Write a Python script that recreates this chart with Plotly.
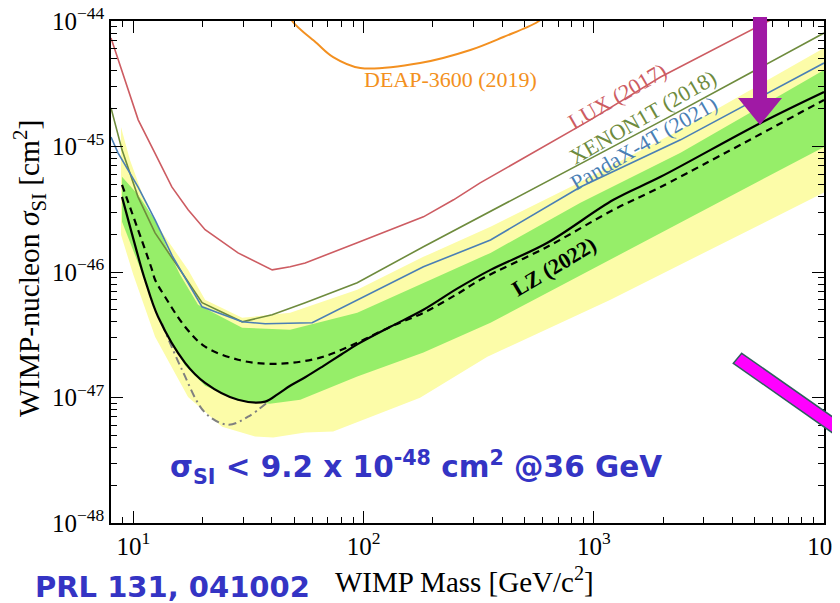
import math
import plotly.graph_objects as go

# ---------------- data (WIMP mass in GeV/c^2, cross section in cm^2) ----------------
lux_m = [8.0, 10.5, 12.4, 14.7, 17.3, 20.5, 28.5, 40.1, 48.0, 55.8, 93.9, 182, 246, 321, 967, 1950, 5870, 10000]
lux_s = [7.33e-45, 1.63e-45, 8.9e-46, 4.76e-46, 3.13e-46, 2.17e-46, 1.42e-46, 1.04e-46, 1.10e-46, 1.18e-46,
         1.71e-46, 2.75e-46, 3.76e-46, 5.13e-46, 1.63e-45, 3.58e-45, 1.02e-44, 1.74e-44]

xenon_m = [8.0, 8.93, 10.48, 12.43, 16.28, 19.89, 29.7, 40.1, 55.8, 93.9, 182, 321, 2009, 10000]
xenon_s = [2.03e-45, 9.4e-46, 3.97e-46, 2.05e-46, 9.86e-47, 5.69e-47, 4.01e-47, 4.56e-47, 5.69e-47, 8.2e-47,
           1.59e-46, 2.75e-46, 1.63e-45, 8.02e-45]

pandax_m = [8.0, 8.58, 10.48, 12.43, 14.74, 19.89, 29.7, 37.4, 59.8, 93.9, 182, 356, 875, 2382, 10000]
pandax_s = [1.19e-45, 8.9e-46, 4.76e-46, 2.6e-46, 1.35e-46, 5.28e-47, 4.01e-47, 3.87e-47, 3.94e-47, 6.01e-47,
            1.1e-46, 1.8e-46, 4.76e-46, 1.13e-45, 4.63e-45]

deap_m = [47.1, 49.0, 62.7, 73.8, 96.8, 176, 291, 405, 569, 617]
deap_s = [1.22e-44, 1.0e-44, 6.64e-45, 5.16e-45, 4.22e-45, 4.63e-45, 5.88e-45, 7.46e-45, 9.82e-45, 1.12e-44]

lz_m = [8.93, 10.9, 11.24, 12.81, 16.78, 20.5, 28.5, 37.4, 42.6, 48.0, 55.8, 66.8, 80.0, 93.9, 130.7, 182, 256,
        356, 629, 1218, 1950, 5306, 10000]
lz_s = [3.97e-46, 1.04e-46, 8.67e-47, 4.4e-47, 1.89e-47, 1.31e-47, 9.6e-48, 9.27e-48, 1.07e-47, 1.24e-47,
        1.45e-47, 1.78e-47, 2.2e-47, 2.65e-47, 3.66e-47, 5.0e-47, 7.4e-47, 1.04e-46, 1.71e-46, 3.76e-46,
        5.73e-46, 1.54e-45, 2.72e-45]

median_m = [8.93, 12.06, 12.43, 13.73, 16.78, 20.5, 28.5, 37.4, 49.0, 66.8, 93.9, 130.7, 182, 256, 321, 629,
            1218, 1950, 10000]
median_s = [4.94e-46, 1.04e-46, 8.67e-47, 6.35e-47, 3.66e-47, 2.54e-47, 2.0e-47, 1.86e-47, 1.89e-47, 2.11e-47,
            2.73e-47, 3.66e-47, 4.73e-47, 6.7e-47, 8.67e-47, 1.59e-46, 3.13e-46, 4.76e-46, 2.35e-45]

dashdot_m = [13.33, 16.28, 20.5, 25.8, 31.5, 38.5]
dashdot_s = [3.87e-47, 1.66e-47, 7.57e-48, 6.07e-48, 7.03e-48, 9.27e-48]

g_up_m = [8.93, 10.48, 12.43, 14.15, 15.96, 19.11, 29.7, 48.0, 93.9, 182, 356, 875, 2382, 10000]
g_up_s = [5.73e-46, 4.12e-46, 2.6e-46, 1.5e-46, 9.5e-47, 5.48e-47, 3.6e-47, 3.47e-47, 4.73e-47, 8.2e-47,
          1.42e-46, 3.56e-46, 8.9e-46, 4.07e-45]
g_lo_m = [8.93, 10.9, 13.73, 16.78, 20.5, 28.5, 39.2, 53.1, 93.9, 182, 356, 10000]
g_lo_s = [2.51e-46, 1.0e-46, 3.34e-47, 1.79e-47, 1.24e-47, 9.42e-48, 8.93e-48, 9.6e-48, 1.47e-47, 2.28e-47,
          3.94e-47, 9.93e-46]

y_up_m = [8.84, 9.67, 11.82, 17.29, 20.5, 29.7, 48.0, 93.9, 182, 356, 792, 2382, 10000]
y_up_s = [1.43e-45, 7.82e-46, 2.85e-46, 1.04e-46, 6.01e-47, 4.31e-47, 4.73e-47, 7.21e-47, 1.32e-46, 2.29e-46,
          4.76e-46, 1.36e-45, 6.1e-45]
y_lo_m = [8.84, 10.0, 12.43, 17.29, 24.3, 33.8, 40.5, 55.8, 73.8, 176, 345, 1182, 10000]
y_lo_s = [1.98e-46, 9.5e-47, 3.05e-47, 1.01e-47, 5.86e-48, 4.88e-48, 4.79e-48, 5.25e-48, 5.35e-48, 9.95e-48,
          2.11e-47, 6.01e-47, 4.3e-46]

x_tickvals = [10, 100, 1000, 10000]
x_ticktext = ["10<sup>1</sup>", "10<sup>2</sup>", "10<sup>3</sup>", "10<sup>4</sup>"]
y_tickvals = [1e-48, 1e-47, 1e-46, 1e-45, 1e-44]
y_ticktext = ["10<sup>\u221248</sup>", "10<sup>\u221247</sup>", "10<sup>\u221246</sup>",
              "10<sup>\u221245</sup>", "10<sup>\u221244</sup>"]
x_minor = [k * 10 ** e for e in range(0, 4) for k in range(2, 10) if 8.0 <= k * 10 ** e <= 1e4]
y_minor = [k * 10.0 ** e for e in range(-48, -44) for k in range(2, 10)]

# ---------------- figure ----------------
fig = go.Figure()


def band(um, us, lm, ls, color):
    fig.add_trace(go.Scatter(x=um + lm[::-1], y=us + ls[::-1], fill="toself", fillcolor=color,
                             mode="lines", line=dict(width=0), hoverinfo="skip", showlegend=False))


band(y_up_m, y_up_s, y_lo_m, y_lo_s, "rgb(252,252,168)")
band(g_up_m, g_up_s, g_lo_m, g_lo_s, "rgb(150,238,105)")


def line(m, s, color, width, dash="solid", shape="linear"):
    fig.add_trace(go.Scatter(x=m, y=s, mode="lines", line=dict(color=color, width=width, dash=dash, shape=shape),
                             showlegend=False))


line(deap_m, deap_s, "#F39020", 2, shape="spline")
line(lux_m, lux_s, "#CD5C62", 1.6)
line(xenon_m, xenon_s, "#6E8B3D", 1.6)
line(pandax_m, pandax_s, "#4A7FB5", 1.6)
line(dashdot_m, dashdot_s, "#808080", 2, dash="8px,4px,2px,4px", shape="spline")
line(median_m, median_s, "black", 2.2, dash="7px,5px", shape="spline")
line(lz_m, lz_s, "black", 2.2, shape="spline")


# plot area on screen: x 111..824, y 21..523 (page has an 8 px body margin)
def P(px, py):
    return (px - 111) / 713.0, (523 - py) / 502.0


def path(points):
    pts = [P(a, b) for a, b in points]
    return "M " + " L ".join(f"{x:.4f},{y:.4f}" for x, y in pts) + " Z"


arrow = path([(753, 17), (753, 98), (738, 98), (760, 125), (782, 98), (767, 98), (767, 17)])
bar = path([(741.7, 353.3), (875, 446.6), (875, 462.6), (733.3, 363.3)])

serif = "Liberation Serif"
sans = "DejaVu Sans"
blue = "#3434C4"

annotations = []


def ann(px, py, text, size, color, family=serif, angle=0):
    x, y = P(px, py)
    annotations.append(dict(x=x, y=y, xref="paper", yref="paper", text=text, showarrow=False,
                            xanchor="center", yanchor="middle", textangle=angle,
                            font=dict(family=family, size=size, color=color)))


ann(450, 79, "DEAP-3600 (2019)", 22, "#F39020")
ann(617, 97, "LUX (2017)", 22, "#CD5C62", angle=-30)
ann(642, 117, "XENON1T (2018)", 22, "#6E8B3D", angle=-30)
ann(643, 143, "PandaX-4T (2021)", 22, "#4A7FB5", angle=-30)
ann(554, 266, "<b>LZ (2022)</b>", 22, "black", angle=-31)
ann(416, 467, "<b>\u03c3<sub>SI</sub> &lt; 9.2 x 10<sup>-48</sup> cm<sup>2</sup> @36 GeV</b>", 29.5, blue,
    family=sans)
ann(172, 587, "<b>PRL 131, 041002</b>", 29, blue, family=sans)
ann(464, 580, "WIMP Mass [GeV/c<sup>2</sup>]", 29, "black")
ann(29, 269, "WIMP-nucleon <i>\u03c3</i><sub>SI</sub> [cm<sup>2</sup>]", 29.5, "black", angle=-90)

axis_common = dict(type="log", tickmode="array", ticks="inside", ticklen=12, tickwidth=1.2, tickcolor="black",
                   showline=True, linecolor="black", linewidth=1.5, mirror="ticks", showgrid=False,
                   zeroline=False, ticklabeloverflow="allow",
                   tickfont=dict(family=serif, size=25, color="black"))

fig.update_layout(
    width=832, height=595, margin=dict(l=103, r=16, t=13, b=80, autoexpand=False),
    paper_bgcolor="white", plot_bgcolor="white", showlegend=False,
    xaxis=dict(range=[math.log10(8.0), 4], tickvals=x_tickvals, ticktext=x_ticktext,
               minor=dict(tickvals=x_minor, ticks="inside", ticklen=6, tickcolor="black", tickwidth=1,
                          showgrid=False), **axis_common),
    yaxis=dict(range=[-48, -44], tickvals=y_tickvals, ticktext=y_ticktext,
               minor=dict(tickvals=y_minor, ticks="inside", ticklen=6, tickcolor="black", tickwidth=1,
                          showgrid=False), **axis_common),
    shapes=[
        dict(type="path", path=arrow, xref="paper", yref="paper", fillcolor="rgb(160,25,165)",
             line=dict(width=0), layer="above"),
        dict(type="path", path=bar, xref="paper", yref="paper", fillcolor="#FF00FF",
             line=dict(color="#2F5F5F", width=1.5), layer="above"),
    ],
    annotations=annotations,
)

fig.write_html("out.html")
